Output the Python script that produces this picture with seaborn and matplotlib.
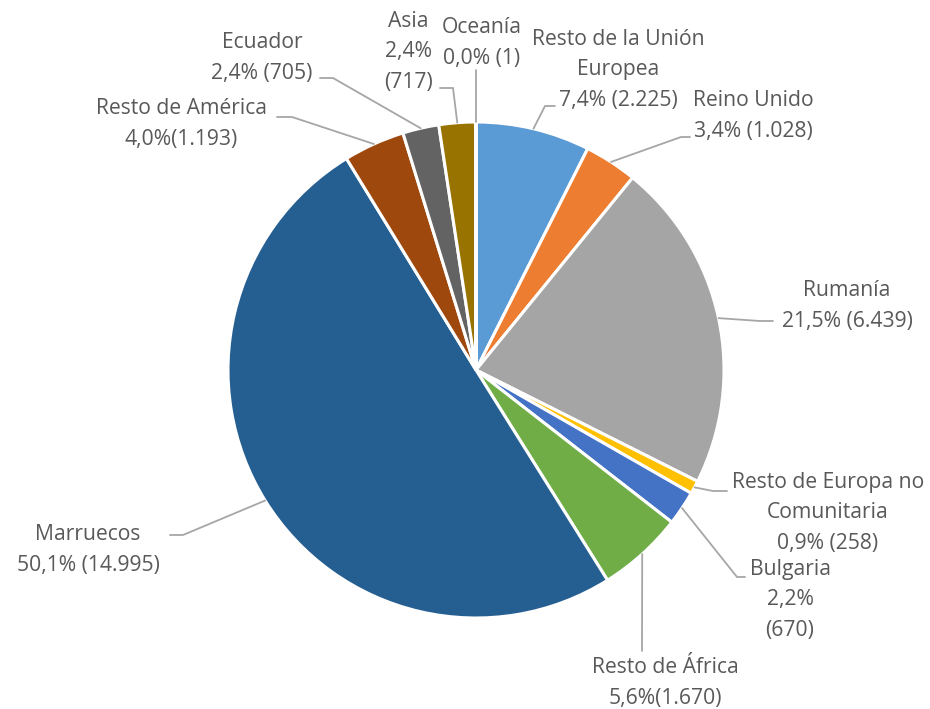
import numpy as np
import seaborn as sns
import matplotlib.pyplot as plt

# data, clockwise from 12 o'clock
regions = ["Resto de la Unión\nEuropea", "Reino Unido", "Rumanía",
           "Resto de Europa no\nComunitaria", "Bulgaria", "Resto de África",
           "Marruecos", "Resto de América", "Ecuador", "Asia", "Oceanía"]
counts = [2225, 1028, 6439, 258, 670, 1670, 14995, 1193, 705, 717, 1]
# how the value part of each label is laid out
value_fmt = ["{p} ({n})", "{p} ({n})", "{p} ({n})", "{p} ({n})", "{p}\n({n})",
             "{p}({n})", "{p} ({n})", "{p}({n})", "{p} ({n})", "{p}\n({n})", "{p} ({n})"]
colors = ["#5B9BD5", "#ED7D31", "#A5A5A5", "#FFC000", "#4472C4", "#70AD47",
          "#255E91", "#9E480E", "#636363", "#997300", "#264478"]

# label layout in image pixels: text centre, leader start, leader elbow
text_pos = [(618, 70), (753, 116), (847, 306), (828, 513), (790, 600), (665, 683),
            (88, 550), (181, 124), (262, 58), (408, 52), (482, 43)]
leader_start = [(555, 106), (690, 137), (773, 321), (727, 491), (745, 577), (642, 651),
                (170, 535), (277, 117), (320, 78), (440, 88), (476, 70)]
leader_elbow = [(545, 106), (681, 137), (760, 321), (713, 491), (737, 577), (642, 651),
                (183, 535), (292, 117), (333, 78), (453, 88), (476, 70)]

W, H = 930, 709
cx, cy, R = 476, 370, 248

sns.set_theme(style="white")
plt.rcParams['font.family'] = ['Open Sans', 'DejaVu Sans']

fig = plt.figure(figsize=(W / 100, H / 100), dpi=100)
ax = fig.add_axes([0, 0, 1, 1])

wedges, _ = ax.pie(counts, colors=colors, startangle=90, counterclock=False,
                   center=(cx, H - cy), radius=R,
                   wedgeprops=dict(edgecolor="white", linewidth=2.2))

total = sum(counts)


def fmt_num(n):
    return f"{n:,}".replace(",", ".")


for i, w in enumerate(wedges):
    pct = f"{100 * counts[i] / total:.1f}%".replace(".", ",")
    label = regions[i] + "\n" + value_fmt[i].format(p=pct, n=fmt_num(counts[i]))
    tx, ty = text_pos[i]
    ax.text(tx, H - ty, label, ha="center", va="center", multialignment="center",
            fontsize=15.2, color="#595959", linespacing=1.58)
    ang = np.deg2rad((w.theta1 + w.theta2) / 2)
    px, py = cx + R * np.cos(ang), (H - cy) + R * np.sin(ang)
    sx, sy = leader_start[i]
    ex, ey = leader_elbow[i]
    ax.plot([sx, ex, px], [H - sy, H - ey, py], color="#A6A6A6", lw=1.3,
            solid_joinstyle="miter")

ax.set_xlim(0, W)
ax.set_ylim(0, H)
ax.set_aspect("equal")
ax.axis("off")

fig.savefig("out.png", dpi=100, facecolor="white")
